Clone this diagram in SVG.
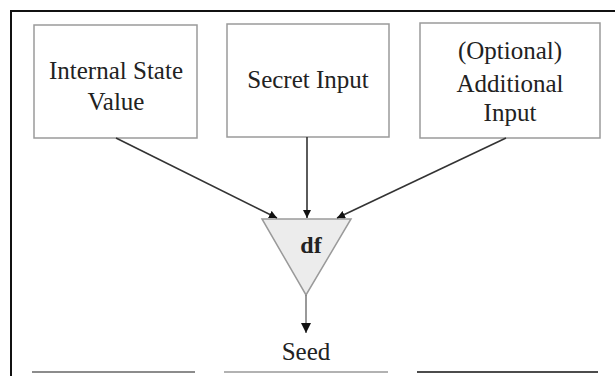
<svg xmlns="http://www.w3.org/2000/svg" width="615" height="376" viewBox="0 0 615 376">
<defs>
<style>
.box{fill:#fff;stroke:#9a9a9a;stroke-width:1.5}
.lbl{font-family:"Liberation Serif","Times New Roman",serif;font-size:25px;fill:#222;text-anchor:middle}
.conn{stroke:#333;stroke-width:1.6;fill:none}
</style>
<marker id="ah" viewBox="0 0 10 10" refX="10" refY="5" markerWidth="8" markerHeight="8" markerUnits="userSpaceOnUse" orient="auto">
<path d="M0,0 L10,5 L0,10 z" fill="#111"/>
</marker>
<marker id="ah2" viewBox="0 0 10 10" refX="10" refY="5" markerWidth="10" markerHeight="10" markerUnits="userSpaceOnUse" orient="auto">
<path d="M0,0 L10,5 L0,10 z" fill="#111"/>
</marker>
</defs>
<rect width="615" height="376" fill="#fff"/>
<path d="M11,376 L11,11 L620,11" fill="none" stroke="#111" stroke-width="2"/>
<g id="internal-state">
<rect class="box" x="34" y="25" width="163" height="113"/>
<text class="lbl" x="116" y="79">Internal State</text>
<text class="lbl" x="116" y="110">Value</text>
</g>
<g id="secret-input">
<rect class="box" x="227" y="24" width="162" height="113"/>
<text class="lbl" x="308" y="88">Secret Input</text>
</g>
<g id="additional-input">
<rect class="box" x="420" y="23" width="180" height="115"/>
<text class="lbl" x="510" y="59">(Optional)</text>
<text class="lbl" x="510" y="92">Additional</text>
<text class="lbl" x="510" y="121">Input</text>
</g>
<g id="df">
<polygon points="262,219 351,219 306,295" fill="#ececec" stroke="#9a9a9a" stroke-width="1.5"/>
<text x="311" y="253" font-family="Liberation Serif,serif" font-weight="bold" font-size="24" fill="#222" text-anchor="middle">df</text>
</g>
<g id="seed">
<text class="lbl" x="306" y="360" font-size="24">Seed</text>
</g>
<g id="connectors">
<line class="conn" x1="116" y1="138" x2="277" y2="218" marker-end="url(#ah)"/>
<line class="conn" x1="307" y1="137" x2="307" y2="218" marker-end="url(#ah)"/>
<line class="conn" x1="506" y1="138" x2="337" y2="218" marker-end="url(#ah)"/>
<line x1="306" y1="295" x2="306" y2="333" stroke="#777" stroke-width="1.5" marker-end="url(#ah2)"/>
</g>
<line x1="32" y1="372" x2="195" y2="372" stroke="#666" stroke-width="1.5"/>
<line x1="224" y1="372" x2="388" y2="372" stroke="#999" stroke-width="1.5"/>
<line x1="417" y1="372" x2="598" y2="372" stroke="#111" stroke-width="1.5"/>
</svg>
